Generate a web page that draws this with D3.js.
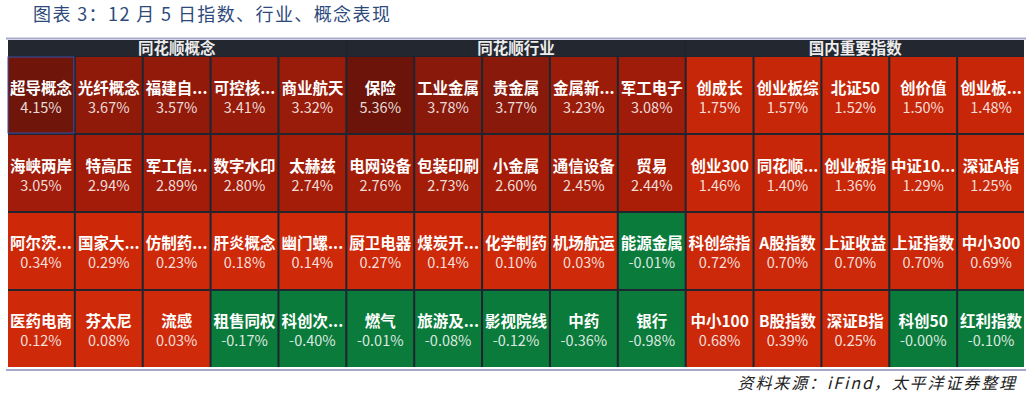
<!DOCTYPE html>
<html>
<head>
<meta charset="utf-8">
<script src="https://cdn.jsdelivr.net/npm/d3@7"></script>
<style>
  body { margin: 0; background: #fff; }
  svg { display: block; font-family: "Noto Sans CJK SC", "Noto Sans", sans-serif; }
</style>
</head>
<body>
<svg id="chart" width="1032" height="398"></svg>
<script>
var groupTitles = [ "同花顺概念", "同花顺行业", "国内重要指数" ];

var conceptNames = [ "超导概念", "光纤概念", "福建自...", "可控核...", "商业航天",
    "海峡两岸", "特高压", "军工信...", "数字水印", "太赫兹",
    "阿尔茨...", "国家大...", "仿制药...", "肝炎概念", "幽门螺...",
    "医药电商", "芬太尼", "流感", "租售同权", "科创次..." ];
var conceptValues = [ 4.15, 3.67, 3.57, 3.41, 3.32, 3.05, 2.94, 2.89, 2.80, 2.74,
    0.34, 0.29, 0.23, 0.18, 0.14, 0.12, 0.08, 0.03, -0.17, -0.40 ];

var industryNames = [ "保险", "工业金属", "贵金属", "金属新...", "军工电子",
    "电网设备", "包装印刷", "小金属", "通信设备", "贸易",
    "厨卫电器", "煤炭开...", "化学制药", "机场航运", "能源金属",
    "燃气", "旅游及...", "影视院线", "中药", "银行" ];
var industryValues = [ 5.36, 3.78, 3.77, 3.23, 3.08, 2.76, 2.73, 2.60, 2.45, 2.44,
    0.27, 0.14, 0.10, 0.03, -0.01, -0.01, -0.08, -0.12, -0.36, -0.98 ];

var indexNames = [ "创成长", "创业板综", "北证50", "创价值", "创业板...",
    "创业300", "同花顺...", "创业板指", "中证10...", "深证A指",
    "科创综指", "A股指数", "上证收益", "上证指数", "中小300",
    "中小100", "B股指数", "深证B指", "科创50", "红利指数" ];
var indexValues = [ 1.75, 1.57, 1.52, 1.50, 1.48, 1.46, 1.40, 1.36, 1.29, 1.25,
    0.72, 0.70, 0.70, 0.70, 0.69, 0.68, 0.39, 0.25, -0.00, -0.10 ];

var selectedName = "超导概念";

var groups = [
    { title: groupTitles[0], names: conceptNames, values: conceptValues },
    { title: groupTitles[1], names: industryNames, values: industryValues },
    { title: groupTitles[2], names: indexNames, values: indexValues }
];

var svg = d3.select( "#chart" );
var cols = 5, rows = 4;

// title and rules
svg.append( "text" )
    .attr( "x", 33 ).attr( "y", 21 )
    .attr( "fill", "#2e4a7c" )
    .attr( "font-size", 18 )
    .style( "letter-spacing", "1.4px" )
    .text( "图表 3：12 月 5 日指数、行业、概念表现" );

svg.append( "rect" ).attr( "x", 6 ).attr( "y", 37.5 ).attr( "width", 1020 ).attr( "height", 2 ).attr( "fill", "#a7a9ca" );
svg.append( "rect" ).attr( "x", 6 ).attr( "y", 369 ).attr( "width", 1020 ).attr( "height", 2 ).attr( "fill", "#a7a9ca" );

svg.append( "text" )
    .attr( "x", 1017 ).attr( "y", 389 )
    .attr( "text-anchor", "end" )
    .attr( "fill", "#222" )
    .attr( "font-size", 16 )
    .attr( "font-style", "italic" )
    .style( "letter-spacing", "1.9px" )
    .text( "资料来源：iFind，太平洋证券整理" );

// dark panel behind the cells
svg.append( "rect" )
    .attr( "x", 8 ).attr( "y", 40 ).attr( "width", 1016 ).attr( "height", 327 )
    .attr( "fill", "#1f2530" );

var groupX = d3.scaleBand().domain( d3.range( groups.length ) ).range( [ 8, 1024 ] ).paddingInner( 0.006 );
var rowY = d3.scaleBand().domain( d3.range( rows ) ).range( [ 57, 367 ] ).paddingInner( 0.025 );

var color = d3.scaleLinear()
    .domain( [ 0, 2, 2.5, 3.1, 3.7, 4.2 ] )
    .range( [ "#cf2a09", "#c42608", "#a61d08", "#a01c0a", "#8e1a0a", "#6c1409" ] )
    .clamp( true );
var green = "#0b7b3b";

function isNeg( v ) {
    return v < 0 || Object.is( v, -0 );
}

function fmt( v ) {
    return ( isNeg( v ) ? "-" : "" ) + Math.abs( v ).toFixed( 2 ) + "%";
}

groups.forEach( function( g, gi ) {
    var x0 = groupX( gi ), bw = groupX.bandwidth();
    var colX = d3.scaleBand().domain( d3.range( cols ) ).range( [ x0, x0 + bw ] ).paddingInner( 0.03 );

    var block = svg.append( "g" ).attr( "class", "group" );

    block.append( "rect" )
        .attr( "x", x0 ).attr( "y", 40 ).attr( "width", bw ).attr( "height", 16 )
        .attr( "fill", "#23272f" );

    block.append( "text" )
        .attr( "x", x0 + bw / 2 ).attr( "y", 53.5 )
        .attr( "text-anchor", "middle" )
        .attr( "fill", "#ececec" )
        .attr( "font-size", 15.5 )
        .attr( "font-weight", "bold" )
        .text( g.title );

    var cells = block.selectAll( "g.cell" )
        .data( g.names.map( function( n, i ) { return { name: n, value: g.values[ i ], i: i }; } ) )
        .enter().append( "g" )
        .attr( "class", "cell" )
        .attr( "transform", function( d ) {
            return "translate(" + colX( d.i % cols ) + "," + rowY( Math.floor( d.i / cols ) ) + ")";
        } );

    cells.append( "rect" )
        .attr( "width", colX.bandwidth() )
        .attr( "height", rowY.bandwidth() )
        .attr( "fill", function( d ) { return isNeg( d.value ) ? green : color( d.value ); } )
        .attr( "stroke", function( d ) { return d.name === selectedName ? "#3b4fa8" : "none"; } )
        .attr( "stroke-width", 1 );

    cells.append( "text" )
        .attr( "x", colX.bandwidth() / 2 )
        .attr( "y", rowY.bandwidth() / 2 - 1.5 )
        .attr( "text-anchor", "middle" )
        .attr( "fill", "#fff" )
        .attr( "font-size", 15.5 )
        .attr( "font-weight", "bold" )
        .text( function( d ) { return d.name; } );

    cells.append( "text" )
        .attr( "x", colX.bandwidth() / 2 )
        .attr( "y", rowY.bandwidth() / 2 + 17.5 )
        .attr( "text-anchor", "middle" )
        .attr( "fill", "rgba(255,255,255,0.86)" )
        .attr( "font-size", 14.5 )
        .text( function( d ) { return fmt( d.value ); } );
} );
</script>
</body>
</html>
